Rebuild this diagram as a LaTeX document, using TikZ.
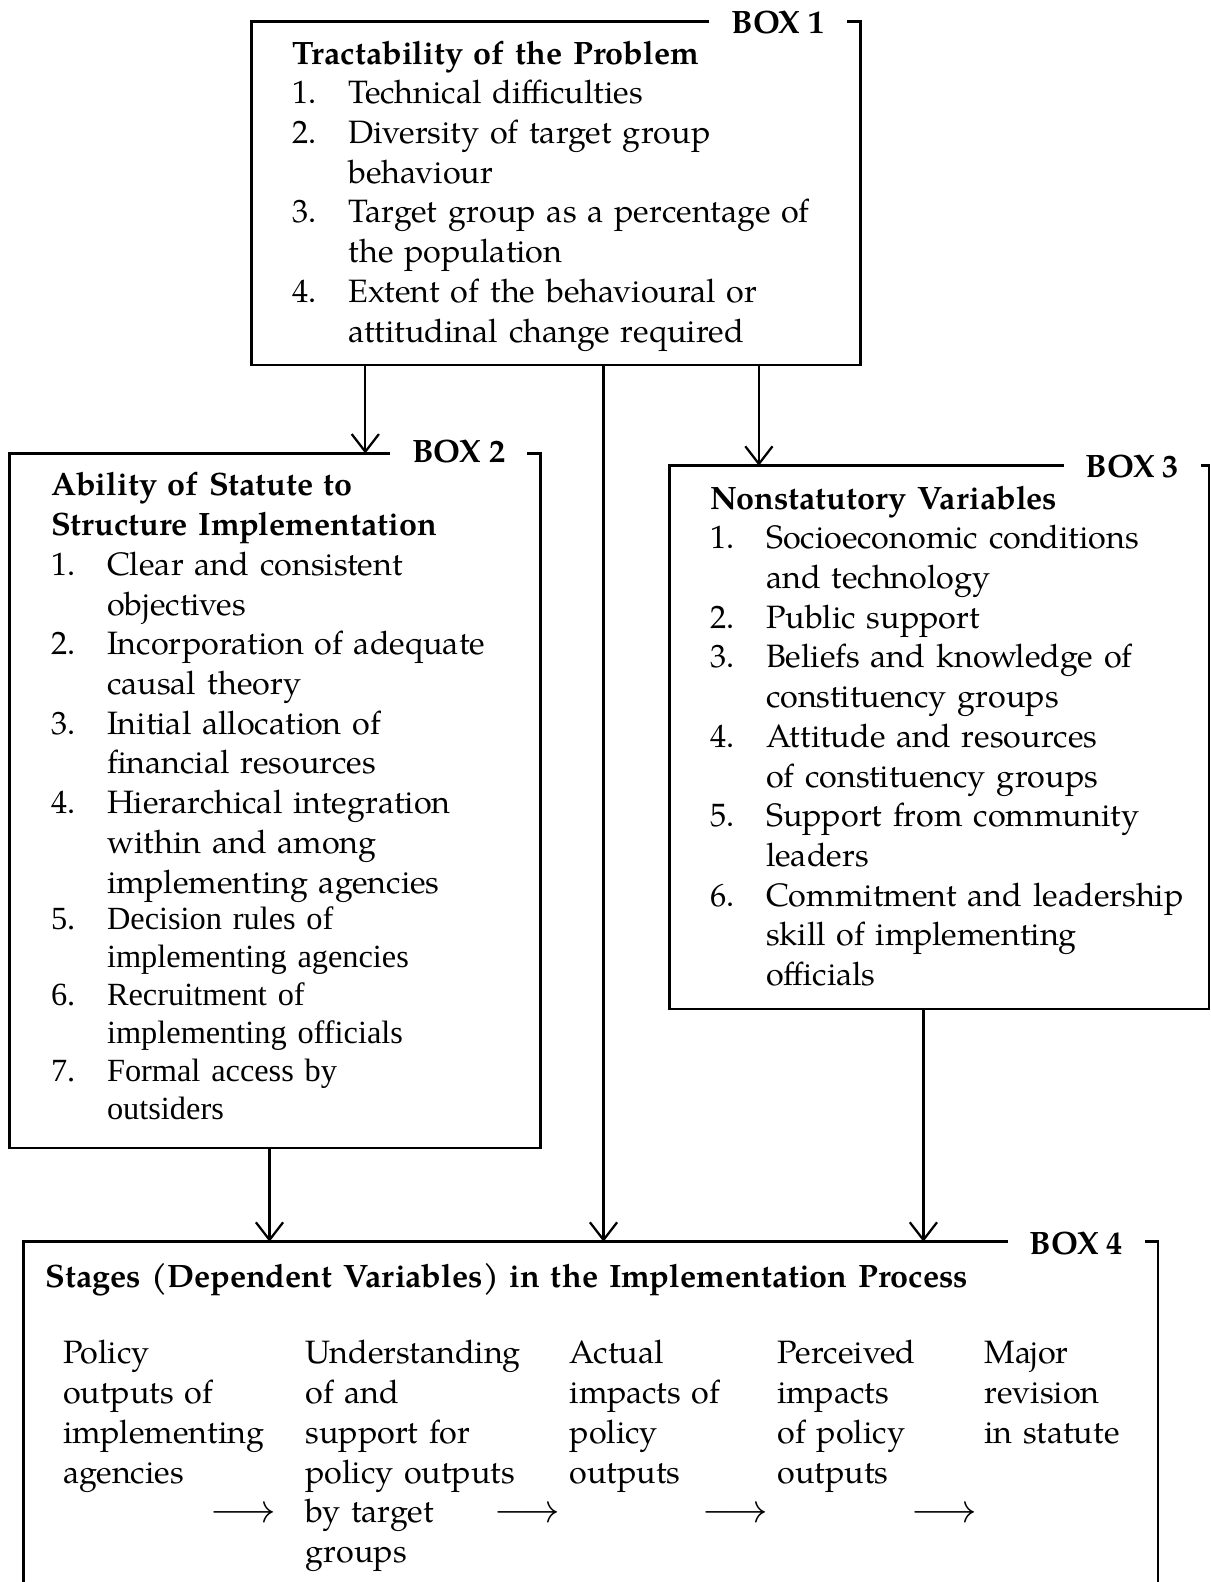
\documentclass[tikz,border=0pt]{standalone}
\usepackage{fontspec}
\setmainfont{TeX Gyre Pagella}
\newfontfamily\timesfont{Liberation Serif}
\usetikzlibrary{arrows.meta,fit}

\setlength{\parindent}{0pt}
\newcommand{\itemno}[1]{\makebox[0.7cm][l]{#1}}
\newcommand{\itemgap}{\hspace*{0.7cm}}

\begin{document}
\begin{tikzpicture}[x=0.0125cm, y=-0.0125cm,
    font=\fontsize{11.5}{14.12}\selectfont,
    frameline/.style={line width=0.9pt},
    conn/.style={line width=0.8pt, -{Straight Barb[length=0.22cm, width=0.34cm]}},
    area/.style={inner sep=0pt},
    boxlabel/.style={font=\fontsize{11.5}{14.12}\selectfont\bfseries, anchor=base, inner xsep=0.27cm, inner ysep=0pt},
    boxtext/.style={anchor=north west, inner sep=0pt, text width=8cm, align=left},
    stage/.style={anchor=north west, inner sep=0pt, text width=3.2cm, align=left},
    flow/.style={anchor=base, inner sep=0pt}]
    \useasboundingbox (0,0) rectangle (1211,1582);

    % the four boxes
    \node[area, fit={(252.3,22.2) (859.8,364.3)}] (box1) {};
    \node[area, fit={(10.1,454.1) (540,1147.5)}] (box2) {};
    \node[area, fit={(670,466.3) (1208.5,1008.2)}] (box3) {};
    \node[area, fit={(24.2,1242.3) (1157.6,1582)}] (box4) {};

    \node[boxlabel] (lab1) at (778,33.2) {BOX 1};
    \node[boxlabel] (lab2) at (458.7,463) {BOX 2};
    \node[boxlabel] (lab3) at (1132.3,477.3) {BOX 3};
    \node[boxlabel] (lab4) at (1076.3,1254.3) {BOX 4};

    \foreach \b in {1,2,3}
        \draw[frameline] (lab\b.west |- box\b.north) -- (box\b.north west) -- (box\b.south west)
            -- (box\b.south east) -- (box\b.north east) -- (lab\b.east |- box\b.north);
    \draw[frameline] (lab4.west |- box4.north) -- (box4.north west) -- (box4.south west);
    \draw[frameline] (box4.south east) -- (box4.north east) -- (lab4.east |- box4.north);

    % box contents
    \node[boxtext] (list1) at (291.7,35.7) {\strut\textbf{Tractability of the Problem}\\
        \itemno{1.}Technical difficulties\\
        \itemno{2.}Diversity of target group\\
        \itemgap behaviour\\
        \itemno{3.}Target group as a percentage of\\
        \itemgap the population\\
        \itemno{4.}Extent of the behavioural or\\
        \itemgap attitudinal change required};

    \node[boxtext] (list2) at (50.5,467.6) {\strut\textbf{Ability of Statute to}\\
        \textbf{Structure Implementation}\\
        \itemno{1.}Clear and consistent\\
        \itemgap objectives\\
        \itemno{2.}Incorporation of adequate\\
        \itemgap causal theory\\
        \itemno{3.}Initial allocation of\\
        \itemgap financial resources\\
        \itemno{4.}Hierarchical integration\\
        \itemgap within and among\\
        \itemgap implementing agencies};
    \node[boxtext, font=\timesfont\fontsize{11.5}{13.5}\selectfont] (list2b) at (50.5,902.8) {\strut\itemno{5.}Decision rules of\\
        \itemgap implementing agencies\\
        \itemno{6.}Recruitment of\\
        \itemgap implementing officials\\
        \itemno{7.}Formal access by\\
        \itemgap outsiders};

    \node[boxtext] (list3) at (709.5,480.7) {\strut\textbf{Nonstatutory Variables}\\
        \itemno{1.}Socioeconomic conditions\\
        \itemgap and technology\\
        \itemno{2.}Public support\\
        \itemno{3.}Beliefs and knowledge of\\
        \itemgap constituency groups\\
        \itemno{4.}Attitude and resources\\
        \itemgap of constituency groups\\
        \itemno{5.}Support from community\\
        \itemgap leaders\\
        \itemno{6.}Commitment and leadership\\
        \itemgap skill of implementing\\
        \itemgap officials};

    \node[boxtext, text width=12cm] (title4) at (45.4,1258.8) {\strut\textbf{Stages (Dependent Variables) in the Implementation Process}};
    \node[stage] (stage1) at (62.6,1335.5) {\strut Policy\\ outputs of\\ implementing\\ agencies};
    \node[stage] (stage2) at (304.8,1335.5) {\strut Understanding\\ of and\\ support for\\ policy outputs\\ by target\\ groups};
    \node[stage] (stage3) at (569.2,1335.5) {\strut Actual\\ impacts of\\ policy\\ outputs};
    \node[stage] (stage4) at (777.1,1335.5) {\strut Perceived\\ impacts\\ of policy\\ outputs};
    \node[stage] (stage5) at (984,1335.5) {\strut Major\\ revision\\ in statute};
    \node[flow] (flow1) at (243.2,1522.8) {\scalebox{1.2}{$\longrightarrow$}};
    \node[flow] (flow2) at (527.3,1522.8) {\scalebox{1.2}{$\longrightarrow$}};
    \node[flow] (flow3) at (735.2,1522.8) {\scalebox{1.2}{$\longrightarrow$}};
    \node[flow] (flow4) at (944.1,1522.8) {\scalebox{1.2}{$\longrightarrow$}};

    % connectors
    \coordinate (x12) at (365.3,0);
    \coordinate (x14) at (603.5,0);
    \coordinate (x13) at (758.9,0);
    \coordinate (x24) at (269.5,0);
    \coordinate (x34) at (923.4,0);
    \draw[conn] (box1.south -| x12) -- (box2.north -| x12);
    \draw[conn] (box1.south -| x14) -- (box4.north -| x14);
    \draw[conn] (box1.south -| x13) -- (box3.north -| x13);
    \draw[conn] (box2.south -| x24) -- (box4.north -| x24);
    \draw[conn] (box3.south -| x34) -- (box4.north -| x34);
\end{tikzpicture}
\end{document}
